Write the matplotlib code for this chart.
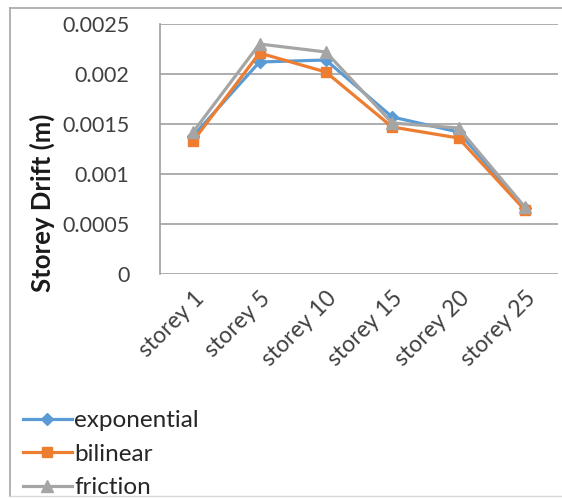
import matplotlib
matplotlib.use("Agg")
import matplotlib.pyplot as plt
from matplotlib.lines import Line2D

categories = ["storey 1", "storey 5", "storey 10", "storey 15", "storey 20", "storey 25"]
exponential = [0.00138, 0.00212, 0.00214, 0.00157, 0.00142, 0.00066]
bilinear = [0.00133, 0.00221, 0.00202, 0.00147, 0.00136, 0.00064]
friction = [0.00142, 0.00230, 0.00222, 0.00151, 0.00146, 0.00067]
y_ticks = [0, 0.0005, 0.001, 0.0015, 0.002, 0.0025]
y_tick_labels = ["0", "0.0005", "0.001", "0.0015", "0.002", "0.0025"]

plt.rcParams["font.family"] = ["Lato", "DejaVu Sans"]

W, H = 562, 498
fig = plt.figure(figsize=(W / 100, H / 100), dpi=100)
fig.patch.set_facecolor("white")

# outer chart frame
frame_col = "#A6A6A6"
fig.add_artist(Line2D([10 / W, 1.0], [1 - 8 / H, 1 - 8 / H], color=frame_col, lw=1.2, transform=fig.transFigure))
fig.add_artist(Line2D([10 / W, 10 / W], [1 - 8 / H, 1 - 496 / H], color=frame_col, lw=1.2, transform=fig.transFigure))
fig.add_artist(Line2D([10 / W, 1.0], [1 - 496 / H, 1 - 496 / H], color="#D9D9D9", lw=1.0, transform=fig.transFigure))

ax = fig.add_axes([160 / W, 1 - 274 / H, 398 / W, 250 / H])
x = list(range(len(categories)))

series = [
    ("exponential", exponential, "#5B9BD5", "D", 6.5),
    ("bilinear", bilinear, "#ED7D31", "s", 7.5),
    ("friction", friction, "#A5A5A5", "^", 8),
]
for name, vals, col, mk, ms in series:
    ax.plot(x, vals, color=col, lw=2.3, marker=mk, markersize=ms, label=name)

ax.set_xlim(-0.5, len(categories) - 0.5)
ax.set_ylim(0, 0.0025)
ax.set_yticks(y_ticks)
ax.set_yticklabels(y_tick_labels, fontsize=15.5, color="#404040")
ax.set_xticks(x)
ax.set_xticklabels(categories, fontsize=16.5, color="#404040", rotation=45,
                   ha="right", rotation_mode="anchor")
ax.tick_params(axis="both", length=0)
ax.tick_params(axis="y", pad=22)
ax.tick_params(axis="x", pad=10)
ax.grid(axis="y", color="#A0A0A0", lw=1.2)
ax.set_axisbelow(True)
for s in ["top", "right", "bottom"]:
    ax.spines[s].set_visible(False)
ax.spines["left"].set_color("#A0A0A0")
ax.spines["left"].set_linewidth(1.2)

fig.text(42 / W, 1 - 203 / H, "Storey Drift (m)", rotation=90, fontsize=18.5,
         fontweight="bold", ha="center", va="center", color="#1a1a1a")

handles, labels = ax.get_legend_handles_labels()
leg = fig.legend(handles, labels, loc="upper left", bbox_to_anchor=(11 / W, 1 - 398 / H),
                 frameon=False, fontsize=17.5, handlelength=2.0, handletextpad=0.1,
                 labelspacing=0.52, borderpad=0, labelcolor="#262626")

fig.savefig("out.png", dpi=100, facecolor="white")
